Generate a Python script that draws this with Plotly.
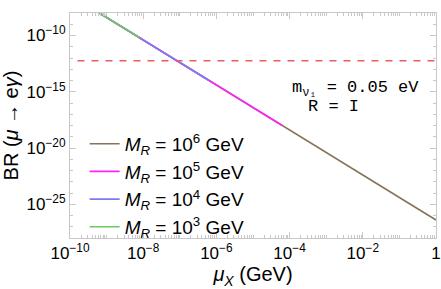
import plotly.graph_objects as go

# Data (log-log straight lines)
mu_brown = [5.6e-10, 1e-9, 1e-8, 1e-7, 1e-6, 1e-5, 1e-4, 1e-3, 1e-2, 1e-1, 1.0]
br_brown = [1.28e-8, 4.0e-9, 4.0e-11, 4.0e-13, 4.0e-15, 4.0e-17, 4.0e-19, 4.0e-21, 4.0e-23, 4.0e-25, 4.0e-27]

mu_magenta = [5.6e-10, 1e-9, 1e-8, 1e-7, 1e-6, 1e-5, 6.3e-5]
br_magenta = [1.28e-8, 4.0e-9, 4.0e-11, 4.0e-13, 4.0e-15, 4.0e-17, 1.0e-18]

mu_blue = [5.6e-10, 1e-9, 1e-8, 1e-7, 6.3e-7]
br_blue = [1.28e-8, 4.0e-9, 4.0e-11, 4.0e-13, 1.0e-14]

mu_green = [5.6e-10, 1e-9, 7.9e-9]
br_green = [1.28e-8, 4.0e-9, 6.4e-11]

mu_limit = [1.6e-10, 1.0]
br_limit = [5.7e-13, 5.7e-13]

x_tick_vals = [1e-10, 1e-8, 1e-6, 1e-4, 1e-2, 1]
x_tick_text = ["10<sup>−10</sup>", "10<sup>−8</sup>", "10<sup>−6</sup>", "10<sup>−4</sup>", "10<sup>−2</sup>", "1"]
y_tick_vals = [1e-10, 1e-15, 1e-20, 1e-25]
y_tick_text = ["10<sup>−10</sup>", "10<sup>−15</sup>", "10<sup>−20</sup>", "10<sup>−25</sup>"]

labels = ["<i>M<sub>R</sub></i> = 10<sup>6</sup> GeV",
          "<i>M<sub>R</sub></i> = 10<sup>5</sup> GeV",
          "<i>M<sub>R</sub></i> = 10<sup>4</sup> GeV",
          "<i>M<sub>R</sub></i> = 10<sup>3</sup> GeV"]
colors = ["#857457", "#ff22ff", "#7a7cf0", "#6ccc5a"]

x_minor = []
for k in range(-10, 0):
    for m in range(1, 10):
        v = m * 10.0 ** k
        if not (m == 1 and k % 2 == 0):
            x_minor.append(v)
y_minor = [10.0 ** k for k in range(-28, -7) if k % 5 != 0]

fig = go.Figure()
series = [(mu_brown, br_brown), (mu_magenta, br_magenta), (mu_blue, br_blue), (mu_green, br_green)]
for (xs, ys), lab, col in zip(series, labels, colors):
    fig.add_trace(go.Scatter(x=xs, y=ys, mode="lines", name=lab,
                             line=dict(color=col, width=1.6)))
fig.add_trace(go.Scatter(x=mu_limit, y=br_limit, mode="lines", showlegend=False,
                         line=dict(color="#ef5b5b", width=1.4, dash="7px,7px")))

axis_common = dict(showgrid=False, zeroline=False, showline=True, linecolor="#c8c8c8",
                   linewidth=1, mirror="ticks", ticks="inside", ticklen=6, automargin=False,
                   ticklabeloverflow="allow",
                   tickcolor="#c8c8c8", tickfont=dict(family="Liberation Sans", size=17, color="black"))

fig.update_xaxes(type="log", range=[-10, 0], tickvals=x_tick_vals, ticktext=x_tick_text,
                 minor=dict(tickvals=x_minor, ticks="inside", ticklen=3, tickcolor="#c8c8c8"),
                 title=dict(text="<i>μ<sub>X</sub></i> (GeV)", font=dict(family="Liberation Sans", size=20, color="black"), standoff=2),
                 **axis_common)
fig.update_yaxes(type="log", range=[-28, -8], tickvals=y_tick_vals, ticktext=y_tick_text,
                 minor=dict(tickvals=y_minor, ticks="inside", ticklen=3, tickcolor="#c8c8c8"),
                 title=dict(text="BR (<i>μ</i> → e<i>γ</i>)", font=dict(family="Liberation Sans", size=20, color="black"), standoff=2),
                 **axis_common)

fig.add_annotation(xref="paper", yref="paper", x=0.60, y=0.662, xanchor="left", yanchor="middle",
                   text="m<sub>ν₁</sub> = 0.05 eV", showarrow=False,
                   font=dict(family="Liberation Mono", size=17, color="black"))
fig.add_annotation(xref="paper", yref="paper", x=0.645, y=0.585, xanchor="left", yanchor="middle",
                   text="R = I", showarrow=False,
                   font=dict(family="Liberation Mono", size=17, color="black"))

fig.update_layout(width=441, height=289, margin=dict(l=70, r=5, t=13, b=51),
                  paper_bgcolor="white", plot_bgcolor="white",
                  legend=dict(x=0.04, y=0.503, xanchor="left", yanchor="top",
                              bgcolor="rgba(0,0,0,0)", font=dict(family="Liberation Sans", size=19, color="black"),
                              tracegroupgap=0))
fig.write_html("out.html", config={"displayModeBar": False},
               post_script="document.body.style.margin='0px';")
